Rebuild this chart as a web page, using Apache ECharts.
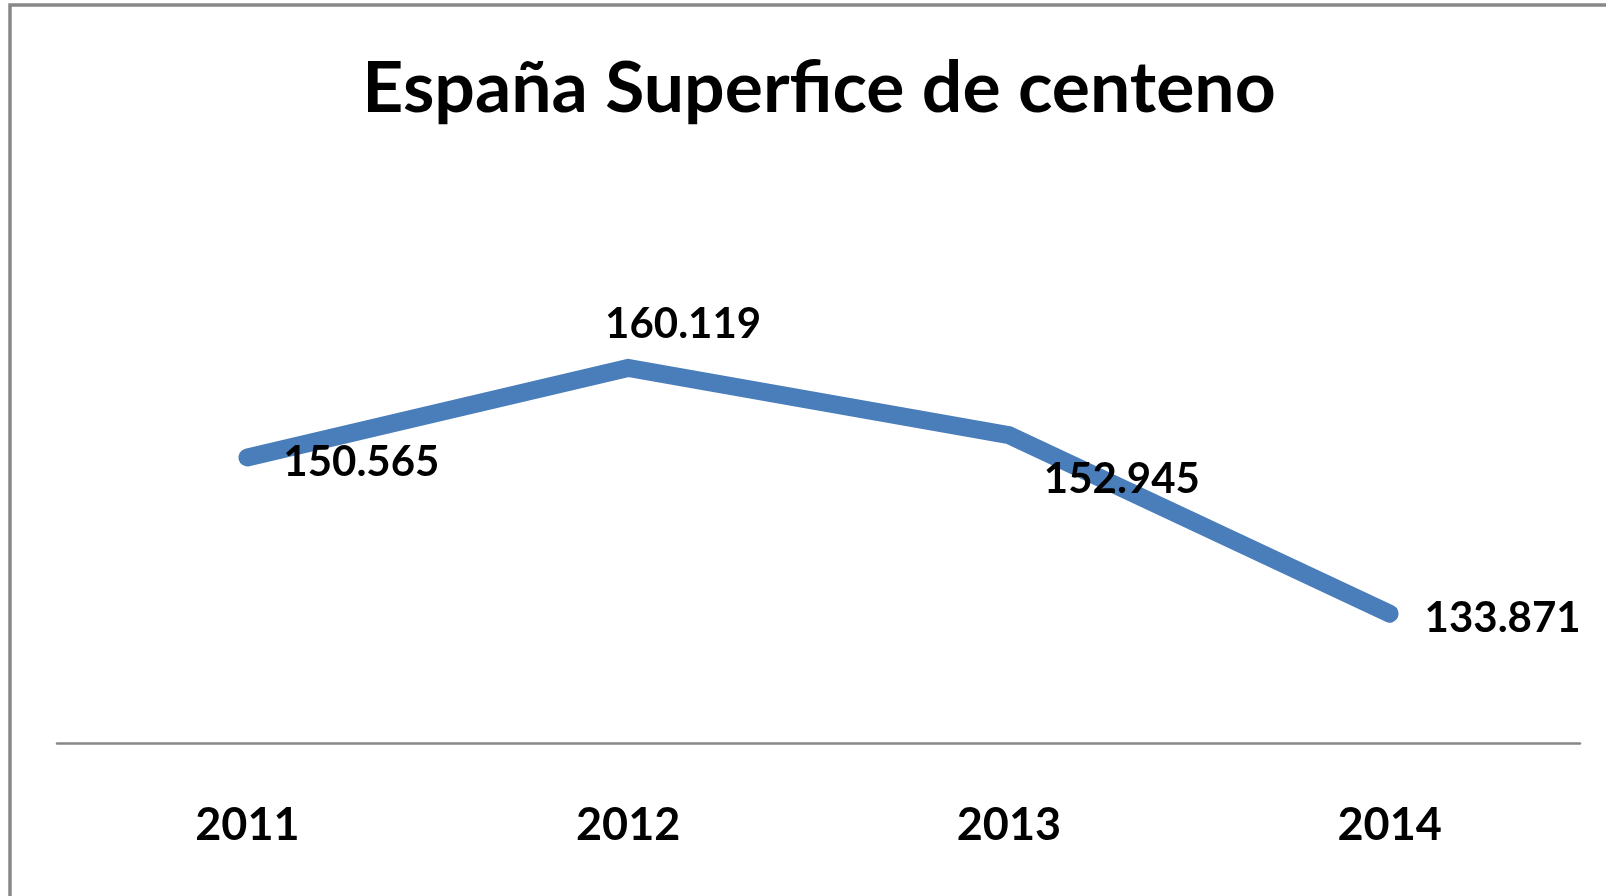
<!DOCTYPE html>
<html>
<head>
<meta charset="utf-8">
<title>España Superfice de centeno</title>
<script src="https://cdn.jsdelivr.net/npm/echarts@6/dist/echarts.min.js"></script>
<style>
  html, body { margin: 0; padding: 0; background: #ffffff; }
  #chart { width: 1606px; height: 896px; }
</style>
</head>
<body>
<div id="chart"></div>
<script>
// Rye area in Spain, by year
const years = ['2011', '2012', '2013', '2014'];
const superficie = [150.565, 160.119, 152.945, 133.871];

// Where each value label sits relative to its point
const labelOffsets = [[114, 5], [55, -43], [113, 44], [113, 5]];

const FONT = 'Lato, "Open Sans", "Liberation Sans", sans-serif';

const chart = echarts.init(document.getElementById('chart'), null, { renderer: 'canvas' });

chart.setOption({
  backgroundColor: '#ffffff',
  animation: false,
  graphic: [{
    type: 'rect',
    shape: { x: 10, y: 5, width: 1800, height: 1200 },
    style: { fill: 'none', stroke: '#888888', lineWidth: 3.5 },
    silent: true,
    z: 100
  }],
  title: {
    text: 'España Superfice de centeno',
    left: 814,
    textAlign: 'center',
    top: 48,
    textStyle: { fontFamily: FONT, fontWeight: 'bold', fontSize: 71.5, color: '#000000' }
  },
  grid: { left: 57, right: 26, top: 275.4, bottom: 152.4, containLabel: false },
  xAxis: {
    type: 'category',
    data: years,
    boundaryGap: true,
    axisLine: { show: true, lineStyle: { color: '#888888', width: 2.5 } },
    axisTick: { show: false },
    axisLabel: {
      margin: 59,
      fontFamily: FONT, fontWeight: 'bold', fontSize: 45, color: '#000000'
    },
    splitLine: { show: false }
  },
  yAxis: {
    type: 'value',
    min: 120,
    max: 170,
    interval: 10,
    show: false,
    splitLine: { show: false }
  },
  series: [{
    type: 'line',
    data: superficie,
    symbol: 'circle',
    symbolSize: 1,
    showSymbol: true,
    itemStyle: { color: '#4a7ebb' },
    lineStyle: { color: '#4a7ebb', width: 18, cap: 'round', join: 'miter' },
    label: {
      show: true,
      position: 'inside',
      formatter: p => p.value.toFixed(3),
      fontFamily: FONT, fontWeight: 'bold', fontSize: 42, color: '#000000'
    },
    labelLayout: p => ({
      dx: labelOffsets[p.dataIndex][0],
      dy: labelOffsets[p.dataIndex][1],
      hideOverlap: false
    }),
    z: 2
  }]
});
</script>
</body>
</html>
